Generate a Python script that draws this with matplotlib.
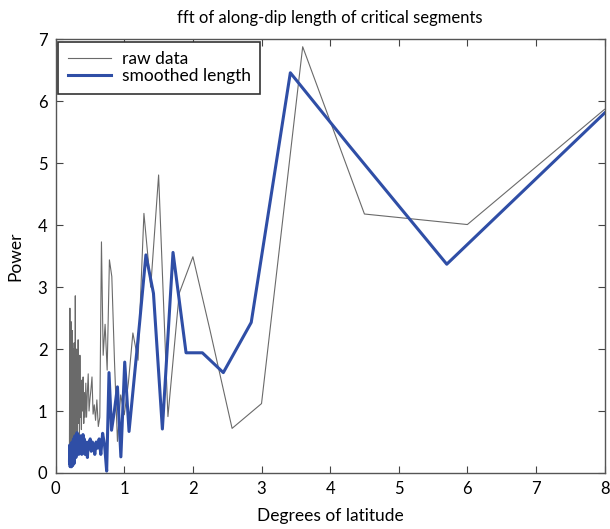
#!/usr/bin/env python3

# FFT of along-dip length of critical segments: raw spectrum vs smoothed.

import matplotlib
matplotlib.use("Agg")
import matplotlib.pyplot as plt

plt.rcParams["font.family"] = ["Lato", "DejaVu Sans"]

# Raw spectrum (frequency in degrees of latitude, power)
raw_x = [0.200, 0.2022, 0.2045, 0.2069, 0.2093, 0.2118, 0.2143, 0.2169,
         0.2195, 0.2222, 0.225, 0.2278, 0.2308, 0.2338, 0.2368, 0.240,
         0.2432, 0.2466, 0.250, 0.2535, 0.2571, 0.2609, 0.2647, 0.2687,
         0.2727, 0.2769, 0.2813, 0.2857, 0.2903, 0.2951, 0.300, 0.3051,
         0.3103, 0.3158, 0.3214, 0.3273, 0.3333, 0.3396, 0.3462, 0.3529,
         0.360, 0.3673, 0.375, 0.383, 0.3913, 0.400, 0.4091, 0.4186,
         0.4286, 0.439, 0.450, 0.4615, 0.474, 0.486, 0.500, 0.514, 0.529,
         0.545, 0.5625, 0.581, 0.600, 0.621, 0.643, 0.667, 0.692, 0.720,
         0.750, 0.783, 0.818, 0.857, 0.900, 0.947, 1.000, 1.059, 1.125,
         1.200, 1.286, 1.385, 1.500, 1.636, 1.800, 2.000, 2.250, 2.571,
         3.000, 3.600, 4.500, 6.000, 8.000]
raw_y = [0.25, 1.20, 0.30, 2.66, 0.40, 1.90, 0.20, 1.40,
         0.50, 2.20, 0.35, 2.44, 0.60, 1.70, 0.30, 2.30,
         0.80, 1.50, 0.25, 2.00, 0.70, 1.80, 0.40, 2.10,
         0.90, 1.30, 0.20, 2.86, 0.50, 1.60, 0.70, 2.00,
         0.60, 1.70, 1.00, 2.15, 0.80, 1.50, 0.60, 1.90,
         0.90, 1.20, 0.70, 1.50, 1.00, 1.55, 0.80, 1.30,
         0.90, 1.45, 0.90, 1.30, 1.60, 1.00, 1.20, 1.35, 1.55,
         0.95, 1.10, 0.85, 1.18, 0.75, 0.90, 3.73, 1.90, 2.40,
         1.66, 3.44, 3.17, 1.80, 0.51, 1.26, 0.94, 1.45, 2.26,
         1.82, 4.19, 3.00, 4.81, 0.91, 2.90, 3.49, 2.30, 0.72,
         1.12, 6.88, 4.18, 4.01, 5.87]

# Smoothed length spectrum
smooth_x = [0.2012, 0.2036, 0.206, 0.2085, 0.2111, 0.2138, 0.2165, 0.2192,
            0.2221, 0.225, 0.228, 0.2311, 0.2342, 0.2375, 0.2408, 0.2443,
            0.2478, 0.2515, 0.2552, 0.2591, 0.2631, 0.2672, 0.2714, 0.2758,
            0.2803, 0.285, 0.2898, 0.2948, 0.300, 0.3054, 0.3109, 0.3167,
            0.3226, 0.3288, 0.3353, 0.342, 0.349, 0.3563, 0.3638, 0.3717,
            0.380, 0.3886, 0.3977, 0.4071, 0.4171, 0.4275, 0.4385, 0.450,
            0.4622, 0.475, 0.4886, 0.5029, 0.5182, 0.5344, 0.5516, 0.570,
            0.5897, 0.6107, 0.6333, 0.6577, 0.684, 0.7125, 0.743, 0.777,
            0.814, 0.855, 0.900, 0.950, 1.006, 1.069, 1.140, 1.221, 1.315,
            1.425, 1.555, 1.710, 1.900, 2.138, 2.443, 2.850, 3.420, 4.280,
            5.700, 8.000]
smooth_y = [0.20, 0.45, 0.15, 0.35, 0.10, 0.30, 0.12, 0.28,
            0.45, 0.18, 0.38, 0.10, 0.30, 0.50, 0.20, 0.35,
            0.12, 0.40, 0.25, 0.55, 0.30, 0.15, 0.45, 0.30,
            0.60, 0.35, 0.50, 0.25, 0.55, 0.40, 0.65, 0.35,
            0.60, 0.45, 0.30, 0.55, 0.40, 0.60, 0.35, 0.50,
            0.30, 0.45, 0.62, 0.40, 0.55, 0.30, 0.50, 0.45,
            0.25, 0.50, 0.40, 0.55, 0.35, 0.50, 0.45, 0.30,
            0.50, 0.40, 0.55, 0.30, 0.64, 0.45, 0.03, 1.62,
            0.69, 1.00, 1.39, 0.26, 1.79, 0.67, 1.48, 2.40, 3.52,
            2.90, 0.71, 3.56, 1.94, 1.94, 1.62, 2.43, 6.46, 5.28,
            3.37, 5.81]

LABELS = ["raw data", "smoothed length"]


def main():
    fig = plt.figure(figsize=(6.10, 5.29), dpi=100)
    ax = fig.add_axes([0.0913, 0.1059, 0.8998, 0.8198])

    ax.plot(raw_x, raw_y, color="#6a6a6a", lw=0.8, label=LABELS[0])
    ax.plot(smooth_x, smooth_y, color="#2f4ea6", lw=2.2, label=LABELS[1])

    ax.set_xlim(0, 8)
    ax.set_ylim(0, 7)
    ax.tick_params(direction="in", top=True, right=True, length=5,
                   labelsize=12, color="#444444", pad=6)
    for spine in ax.spines.values():
        spine.set_color("#555555")
        spine.set_linewidth(1.0)

    ax.set_xlabel("Degrees of latitude", fontsize=12.5, labelpad=8)
    ax.set_ylabel("Power", fontsize=12.5, labelpad=10)
    ax.set_title("fft of along-dip length of critical segments",
                 fontsize=12, pad=12)

    leg = ax.legend(loc="upper left", fontsize=12.5, fancybox=False,
                    framealpha=1, edgecolor="#333333", borderaxespad=0.15,
                    handlelength=2.5, handletextpad=0.6, labelspacing=0.05,
                    borderpad=0.55)
    leg.get_frame().set_linewidth(1.2)

    fig.savefig("out.png")


if __name__ == "__main__":
    main()
